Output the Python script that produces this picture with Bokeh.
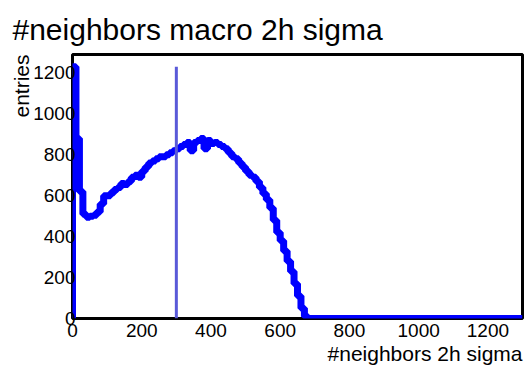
from bokeh.plotting import figure
from bokeh.models import Range1d, Title, FixedTicker
from bokeh.embed import file_html
from bokeh.resources import INLINE

# Histogram of the number of neighbours (2h sigma), bins of width 10 from 0 to 1300
bin_width = 10
bin_lo = 0
counts = [
    1230, 880, 620, 510, 495, 500, 505, 520, 560, 600,
    600, 615, 630, 640, 660, 655, 670, 690, 700, 690,
    720, 740, 760, 770, 780, 790, 790, 800, 810, 820,
    830, 840, 850, 860, 820, 860, 870, 880, 830, 870,
    855, 860, 850, 840, 830, 810, 790, 780, 760, 740,
    720, 700, 690, 670, 640, 610, 580, 540, 480, 420,
    380, 330, 280, 230, 170, 110, 50, 10, 0, 0,
    0, 0, 0, 0, 0, 0, 0, 0, 0, 0,
    0, 0, 0, 0, 0, 0, 0, 0, 0, 0,
    0, 0, 0, 0, 0, 0, 0, 0, 0, 0,
    0, 0, 0, 0, 0, 0, 0, 0, 0, 0,
    0, 0, 0, 0, 0, 0, 0, 0, 0, 0,
    0, 0, 0, 0, 0, 0, 0, 0, 0, 0,
]
cut_value = [300]
x_ticks = [0, 200, 400, 600, 800, 1000, 1200]
y_ticks = [0, 200, 400, 600, 800, 1000, 1200]

x_max = 1300
y_max = 1290
font = "Liberation Sans"

p = figure(width=528, height=371, output_backend="svg", toolbar_location=None,
           x_range=Range1d(0, x_max), y_range=Range1d(0, y_max),
           min_border_left=72, min_border_right=6, min_border_top=54,
           min_border_bottom=53)

p.title.text = "#neighbors macro 2h sigma"
p.title.text_font = font
p.title.text_font_size = "30px"
p.title.text_font_style = "normal"
p.title.text_color = "black"
p.title.text_line_height = 0.7
p.title.offset = -60
p.title.standoff = 18

p.grid.visible = False
p.outline_line_color = "black"
p.outline_line_width = 3
p.outline_line_alpha = 1

for ax in (p.xaxis[0], p.yaxis[0]):
    ax.major_tick_line_color = None
    ax.minor_tick_line_color = None
    ax.axis_line_color = None
    ax.major_label_text_font = font
    ax.major_label_text_font_size = "19px"
    ax.major_label_text_color = "black"
    ax.major_tick_out = 0
    ax.major_tick_in = 0

p.xaxis.ticker = FixedTicker(ticks=x_ticks)
p.yaxis.ticker = FixedTicker(ticks=y_ticks)
p.xaxis.major_label_standoff = 5
p.yaxis.major_label_standoff = -3

# axis titles, right/top aligned
xt = Title(text="#neighbors 2h sigma", align="right", text_font=font,
           text_font_size="21px", text_font_style="normal", text_color="black",
           standoff=0, offset=0)
p.add_layout(xt, "below")
yt = Title(text="entries", align="right", text_font=font,
           text_font_size="21px", text_font_style="normal", text_color="black",
           standoff=-5, offset=0)
p.add_layout(yt, "left")

# histogram as a step outline
edges = [bin_lo + i * bin_width for i in range(len(counts) + 1)]
xs = [edges[0]] + edges
ys = [0] + counts + [counts[-1]]
p.step(xs, ys, mode="after", line_color="#0000ff", line_width=7)

# cut marker
p.segment(x0=cut_value, y0=[0], x1=cut_value, y1=[max(counts)],
          line_color="#5a5ad8", line_width=3)

open("out.html", "w").write(file_html(p, INLINE))
